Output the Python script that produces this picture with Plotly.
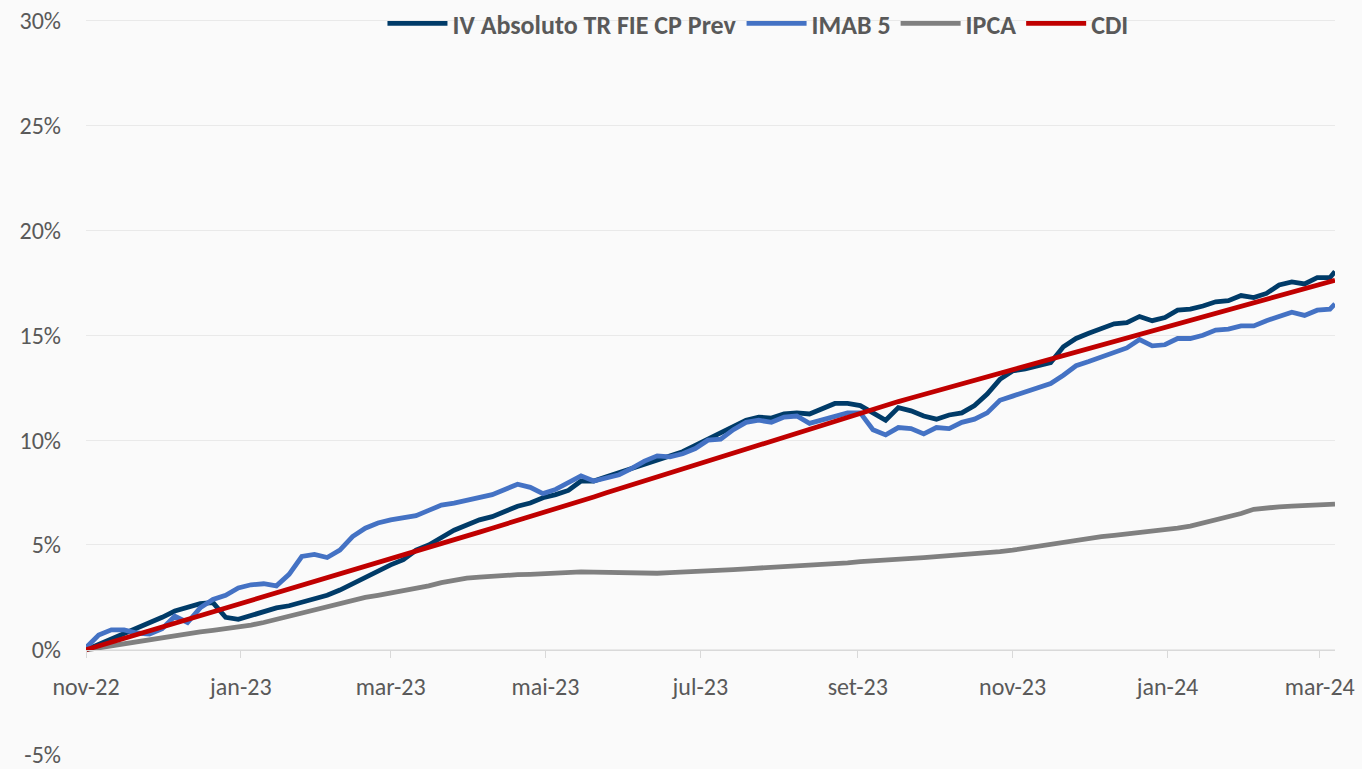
import plotly.graph_objects as go

dates = ["2022-11-01","2022-11-06","2022-11-11","2022-11-16","2022-11-21","2022-11-26","2022-12-01","2022-12-06","2022-12-11","2022-12-16",
         "2022-12-21","2022-12-26","2022-12-31","2023-01-05","2023-01-10","2023-01-15","2023-01-20","2023-01-25","2023-01-30","2023-02-04",
         "2023-02-09","2023-02-14","2023-02-19","2023-02-24","2023-03-01","2023-03-06","2023-03-11","2023-03-16","2023-03-21","2023-03-26",
         "2023-03-31","2023-04-05","2023-04-10","2023-04-15","2023-04-20","2023-04-25","2023-04-30","2023-05-05","2023-05-10","2023-05-15",
         "2023-05-20","2023-05-25","2023-05-30","2023-06-04","2023-06-09","2023-06-14","2023-06-19","2023-06-24","2023-06-29","2023-07-04",
         "2023-07-09","2023-07-14","2023-07-19","2023-07-24","2023-07-29","2023-08-03","2023-08-08","2023-08-13","2023-08-18","2023-08-23",
         "2023-08-28","2023-09-02","2023-09-07","2023-09-12","2023-09-17","2023-09-22","2023-09-27","2023-10-02","2023-10-07","2023-10-12",
         "2023-10-17","2023-10-22","2023-10-27","2023-11-01","2023-11-06","2023-11-11","2023-11-16","2023-11-21","2023-11-26","2023-12-01",
         "2023-12-06","2023-12-11","2023-12-16","2023-12-21","2023-12-26","2023-12-31","2024-01-05","2024-01-10","2024-01-15","2024-01-20",
         "2024-01-25","2024-01-30","2024-02-04","2024-02-09","2024-02-14","2024-02-19","2024-02-24","2024-02-29","2024-03-05","2024-03-07"]

iv_absoluto = [0.0,0.25,0.5,0.8,1.05,1.3,1.55,1.85,2.05,2.2,
               2.25,1.55,1.45,1.65,1.85,2.0,2.1,2.25,2.4,2.6,
               2.85,3.15,3.5,3.8,4.05,4.3,4.75,5.0,5.35,5.7,
               5.95,6.2,6.35,6.6,6.85,7.0,7.25,7.4,7.6,8.05,
               8.05,8.25,8.45,8.65,8.9,9.1,9.3,9.45,9.75,10.05,
               10.3,10.65,10.95,11.1,11.05,11.25,11.3,11.25,11.5,11.75,
               11.75,11.65,11.3,10.95,11.55,11.4,11.15,11.0,11.2,11.3,
               11.65,12.2,12.9,13.3,13.4,13.55,13.7,14.45,14.85,15.1,
               15.3,15.55,15.6,15.9,15.7,15.85,16.2,16.25,16.4,16.6,
               16.65,16.9,16.8,17.0,17.4,17.55,17.45,17.75,17.75,18.05]

imab5 = [0.1,0.7,0.95,0.95,0.8,0.75,1.0,1.6,1.3,2.0,
         2.4,2.6,2.95,3.1,3.15,3.05,3.6,4.45,4.55,4.4,
         4.75,5.4,5.8,6.05,6.2,6.3,6.4,6.65,6.9,7.0,
         7.15,7.3,7.4,7.65,7.9,7.75,7.45,7.65,7.95,8.3,
         8.05,8.2,8.35,8.65,9.0,9.25,9.2,9.35,9.6,10.0,
         10.05,10.5,10.85,10.95,10.85,11.1,11.15,10.8,10.95,11.15,
         11.3,11.3,10.5,10.25,10.6,10.55,10.3,10.6,10.55,10.85,
         11.0,11.3,11.9,12.1,12.3,12.5,12.7,13.1,13.55,13.75,
         13.95,14.2,14.4,14.8,14.5,14.55,14.85,14.85,15.0,15.25,
         15.3,15.45,15.45,15.7,15.9,16.1,15.95,16.2,16.25,16.5]

ipca = [0.0,0.1,0.2,0.3,0.4,0.5,0.6,0.7,0.78,0.85,
        0.93,1.0,1.08,1.18,1.3,1.45,1.6,1.75,1.92,2.05,
        2.25,2.38,2.5,2.6,2.7,2.82,2.95,3.05,3.2,3.32,
        3.42,3.47,3.52,3.55,3.58,3.6,3.63,3.67,3.72,3.72,
        3.7,3.68,3.66,3.65,3.64,3.65,3.68,3.7,3.72,3.75,
        3.78,3.82,3.86,3.89,3.92,3.95,3.98,4.02,4.06,4.1,
        4.15,4.2,4.25,4.28,4.32,4.36,4.4,4.44,4.48,4.52,
        4.58,4.63,4.68,4.75,4.85,4.95,5.05,5.15,5.25,5.32,
        5.4,5.46,5.52,5.6,5.66,5.72,5.8,5.9,6.05,6.2,
        6.32,6.5,6.7,6.78,6.82,6.85,6.88,6.9,6.93,6.95]

cdi = [0.0,0.18,0.36,0.54,0.72,0.9,1.07,1.25,1.43,1.61,
       1.79,1.97,2.15,2.33,2.51,2.68,2.86,3.04,3.22,3.4,
       3.59,3.77,3.96,4.14,4.32,4.51,4.69,4.88,5.06,5.24,
       5.43,5.61,5.8,5.98,6.17,6.35,6.53,6.72,6.91,7.1,
       7.29,7.49,7.68,7.87,8.06,8.26,8.45,8.64,8.83,9.03,
       9.22,9.41,9.6,9.8,9.99,10.18,10.37,10.56,10.75,10.93,
       11.11,11.29,11.48,11.66,11.84,12.01,12.18,12.34,12.51,12.68,
       12.85,13.02,13.19,13.35,13.52,13.69,13.86,14.03,14.2,14.36,
       14.53,14.7,14.87,15.04,15.2,15.37,15.54,15.71,15.88,16.05,
       16.22,16.38,16.55,16.72,16.89,17.06,17.23,17.4,17.56,17.63]

series_names = ["IV Absoluto TR FIE CP Prev", "IMAB 5", "IPCA", "CDI"]
series_values = [iv_absoluto, imab5, ipca, cdi]
series_colors = ["#003B68", "#4472C4", "#808080", "#C00000"]

x_tick_vals = ["2022-11-01","2023-01-01","2023-03-01","2023-05-01","2023-07-01",
               "2023-09-01","2023-11-01","2024-01-01","2024-03-01"]
x_tick_text = ["nov-22","jan-23","mar-23","mai-23","jul-23","set-23","nov-23","jan-24","mar-24"]
y_tick_vals = [-5, 0, 5, 10, 15, 20, 25, 30]
y_tick_text = ["-5%", "0%", "5%", "10%", "15%", "20%", "25%", "30%"]

FONT = "Calibri, Carlito, Lato, sans-serif"
TEXT = "#595959"

fig = go.Figure()
for name, vals, col in zip(series_names, series_values, series_colors):
    fig.add_trace(go.Scatter(x=dates, y=vals, name=name, mode="lines",
                             line=dict(color=col, width=4.8)))

# y range carries one extra unit of headroom above 30% so the legend row sits inside the plot area
fig.update_layout(
    width=1362, height=769,
    margin=dict(l=86, r=27, t=0, b=11),
    paper_bgcolor="#FAFAFA", plot_bgcolor="rgba(0,0,0,0)",
    font=dict(family=FONT, color=TEXT, size=24),
    showlegend=True,
    legend=dict(orientation="h", x=0.538, xanchor="center", y=1.0, yanchor="top",
                font=dict(family=FONT, size=26, color=TEXT, weight="bold"),
                bgcolor="rgba(0,0,0,0)", itemwidth=60, tracegroupgap=0),
    xaxis=dict(type="date", range=["2022-11-01", "2024-03-07"],
               tickvals=x_tick_vals, ticktext=x_tick_text,
               showgrid=False, showline=True, linecolor="#D9D9D9", linewidth=1,
               ticks="outside", ticklen=7, tickcolor="#D9D9D9",
               anchor="free", position=5.02/36.017, ticklabelstandoff=8,
               tickfont=dict(family=FONT, size=24, color=TEXT), zeroline=False),
    yaxis=dict(range=[-5.02, 30.997], tickvals=y_tick_vals, ticktext=y_tick_text,
               showgrid=True, gridcolor="#E9E9E9", gridwidth=1, zeroline=False,
               showline=False, ticks="", ticklabelstandoff=24,
               ticklabeloverflow="allow",
               tickfont=dict(family=FONT, size=24, color=TEXT)),
)

fig.write_html("out.html", config={"displayModeBar": False},
               post_script="document.body.style.margin='0';")
